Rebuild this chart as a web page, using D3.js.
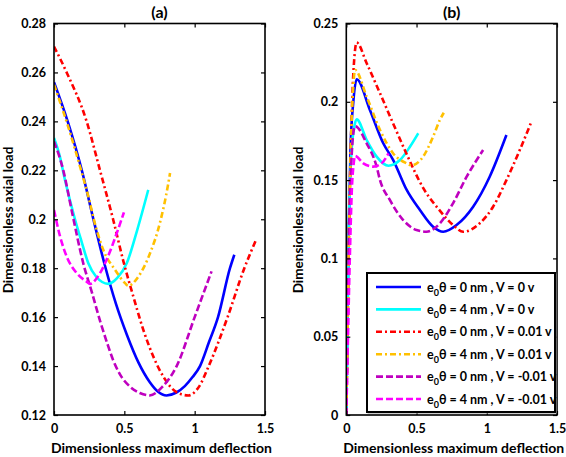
<!DOCTYPE html>
<html>
<head>
<meta charset="utf-8">
<script src="https://cdn.jsdelivr.net/npm/d3@7/dist/d3.min.js"></script>
<style>
  html, body { margin: 0; padding: 0; background: #fff; }
  svg { display: block; }
  text { font-family: Lato, "Open Sans", sans-serif; font-weight: bold; fill: #000; }
</style>
</head>
<body>
<div id="chart"></div>
<script>
// ---------- data ----------
const seriesNames = [
  "e0θ = 0 nm , V = 0 v",
  "e0θ = 4 nm , V = 0 v",
  "e0θ = 0 nm , V = 0.01 v",
  "e0θ = 4 nm , V = 0.01 v",
  "e0θ = 0 nm , V = -0.01 v",
  "e0θ = 4 nm , V = -0.01 v"
];
const legendParts = [
  ["0 nm", "0 v"], ["4 nm", "0 v"], ["0 nm", "0.01 v"],
  ["4 nm", "0.01 v"], ["0 nm", "-0.01 v"], ["4 nm", "-0.01 v"]
];

// Panel (a): [deflection, axial load]
const a_blue = [[0,0.256],[0.1,0.2395],[0.2,0.2195],[0.28,0.2],[0.36,0.1815],[0.44,0.1655],[0.52,0.1525],[0.6,0.1415],[0.68,0.1335],[0.74,0.1295],[0.8,0.128],[0.87,0.1292],[0.93,0.1318],[0.985,0.1355],[1.038,0.14],[1.1,0.1495],[1.166,0.16],[1.251,0.18],[1.282,0.1855]];
const a_cyan = [[0,0.2332],[0.04,0.226],[0.078,0.2161],[0.149,0.2],[0.197,0.1907],[0.244,0.182],[0.3,0.1765],[0.386,0.1736],[0.45,0.176],[0.517,0.182],[0.592,0.1957],[0.67,0.212]];
const a_red = [[0,0.2706],[0.09,0.26],[0.232,0.24],[0.327,0.22],[0.42,0.2],[0.497,0.182],[0.564,0.1684],[0.635,0.1548],[0.706,0.1439],[0.777,0.1357],[0.872,0.1293],[0.955,0.128],[1.03,0.1315],[1.1,0.14],[1.234,0.16],[1.353,0.18],[1.44,0.192]];
const a_orange = [[0,0.255],[0.1,0.238],[0.2,0.2185],[0.232,0.212],[0.303,0.1957],[0.35,0.1875],[0.434,0.1793],[0.505,0.1739],[0.528,0.1728],[0.6,0.1766],[0.682,0.186],[0.753,0.1985],[0.813,0.2148],[0.825,0.2189]];
const a_purple = [[0,0.2318],[0.066,0.22],[0.126,0.2035],[0.208,0.182],[0.27,0.17],[0.33,0.158],[0.38,0.149],[0.42,0.1425],[0.47,0.1365],[0.54,0.1316],[0.61,0.129],[0.68,0.128],[0.77,0.1315],[0.872,0.14],[1.0,0.16],[1.12,0.1787]];
const a_magenta = [[0,0.2038],[0.043,0.193],[0.09,0.1848],[0.161,0.178],[0.232,0.1745],[0.256,0.1736],[0.327,0.178],[0.398,0.1868],[0.446,0.1943],[0.497,0.2028]];

// Panel (b)
const b_blue = [[0,0],[0.008,0.06],[0.018,0.12],[0.03,0.17],[0.05,0.2],[0.074,0.2144],[0.168,0.1948],[0.263,0.1735],[0.334,0.1628],[0.43,0.1437],[0.524,0.1309],[0.618,0.1202],[0.69,0.117],[0.785,0.1213],[0.903,0.133],[1.02,0.152],[1.14,0.1788]];
const b_cyan = [[0,0],[0.008,0.06],[0.018,0.12],[0.035,0.165],[0.055,0.183],[0.074,0.1888],[0.145,0.1756],[0.216,0.165],[0.3,0.1592],[0.382,0.1628],[0.453,0.1713],[0.512,0.1799]];
const b_red = [[0,0],[0.01,0.06],[0.02,0.12],[0.035,0.18],[0.05,0.218],[0.074,0.2378],[0.145,0.2246],[0.24,0.2054],[0.334,0.186],[0.43,0.1665],[0.547,0.145],[0.666,0.1305],[0.76,0.1213],[0.832,0.117],[0.95,0.1224],[1.045,0.133],[1.14,0.15],[1.234,0.169],[1.318,0.1873]];
const b_orange = [[0,0],[0.01,0.06],[0.02,0.12],[0.035,0.18],[0.05,0.21],[0.062,0.2203],[0.145,0.2033],[0.24,0.182],[0.334,0.167],[0.43,0.1607],[0.465,0.1594],[0.547,0.165],[0.618,0.1777],[0.666,0.1884],[0.694,0.193]];
const b_purple = [[0,0],[0.01,0.06],[0.02,0.12],[0.035,0.16],[0.05,0.18],[0.062,0.1845],[0.145,0.1735],[0.216,0.1586],[0.24,0.15],[0.31,0.1373],[0.405,0.1245],[0.5,0.1181],[0.571,0.117],[0.666,0.1224],[0.76,0.1352],[0.856,0.152],[0.974,0.1692]];
const b_magenta = [[0,0],[0.012,0.05],[0.025,0.1],[0.04,0.145],[0.052,0.16],[0.062,0.1654],[0.121,0.1607],[0.192,0.1586],[0.251,0.1607],[0.3,0.167]];

const xTicks = [0, 0.5, 1, 1.5];
const yTicksA = [0.12, 0.14, 0.16, 0.18, 0.2, 0.22, 0.24, 0.26, 0.28];
const yTicksB = [0, 0.05, 0.1, 0.15, 0.2, 0.25];

// ---------- styles ----------
const colors = ["#0000ff", "#00ffff", "#ff0000", "#ffc000", "#bf00bf", "#ff00ff"];
const dashes = [null, null, "6,3,2,3", "6,3,2,3", "7,3", "7,3"];

const W = 566, H = 457;
const svg = d3.select("#chart").append("svg").attr("width", W).attr("height", H);

function panel(cfg) {
  const x = d3.scaleLinear().domain([0, 1.5]).range([cfg.left, cfg.right]);
  const y = d3.scaleLinear().domain(cfg.yDomain).range([cfg.bottom, cfg.top]);
  const g = svg.append("g");

  const line = d3.line().x(d => x(d[0])).y(d => y(d[1])).curve(d3.curveMonotoneX);
  g.append("defs").append("clipPath").attr("id", cfg.id + "clip")
    .append("rect").attr("x", cfg.left).attr("y", cfg.top)
    .attr("width", cfg.right - cfg.left).attr("height", cfg.bottom - cfg.top);
  const lines = g.append("g").attr("clip-path", `url(#${cfg.id}clip)`);
  cfg.series.forEach((s, i) => {
    lines.append("path").datum(s)
      .attr("d", line).attr("fill", "none")
      .attr("stroke", colors[i]).attr("stroke-width", 2.6)
      .attr("stroke-dasharray", dashes[i]);
  });

  const fmt = d => String(+d.toFixed(2));
  const bottomAx = d3.axisBottom(x).tickValues(xTicks).tickSizeInner(-4).tickSizeOuter(0).tickPadding(9).tickFormat(fmt);
  const topAx = d3.axisTop(x).tickValues(xTicks).tickSizeInner(-4).tickSizeOuter(0).tickFormat("");
  const leftAx = d3.axisLeft(y).tickValues(cfg.yTicks).tickSizeInner(-4).tickSizeOuter(0).tickPadding(8).tickFormat(fmt);
  const rightAx = d3.axisRight(y).tickValues(cfg.yTicks).tickSizeInner(-4).tickSizeOuter(0).tickFormat("");

  const axes = [
    [bottomAx, `translate(0,${cfg.bottom})`],
    [topAx, `translate(0,${cfg.top})`],
    [leftAx, `translate(${cfg.left},0)`],
    [rightAx, `translate(${cfg.right},0)`]
  ];
  axes.forEach(([ax, tr]) => {
    const a = g.append("g").attr("transform", tr).call(ax);
    a.select(".domain").remove();
    a.selectAll(".tick line").attr("stroke", "#000").attr("stroke-width", 1.2);
    a.selectAll(".tick text").style("font-family", "Lato, 'Open Sans', sans-serif")
      .style("font-weight", "bold").style("font-size", "12.5px").attr("fill", "#000");
  });

  g.append("rect").attr("x", cfg.left).attr("y", cfg.top)
    .attr("width", cfg.right - cfg.left).attr("height", cfg.bottom - cfg.top)
    .attr("fill", "none").attr("stroke", "#000").attr("stroke-width", 1.6);

  g.append("text").attr("x", (cfg.left + cfg.right) / 2).attr("y", 18)
    .attr("text-anchor", "middle").style("font-size", "16px").text(cfg.title);
  g.append("text").attr("x", (cfg.left + cfg.right) / 2 + 2).attr("y", 453)
    .attr("text-anchor", "middle").style("font-size", "14px").text("Dimensionless maximum deflection");
  g.append("text").attr("transform", `translate(${cfg.ylabX},220) rotate(-90)`)
    .attr("text-anchor", "middle").style("font-size", "13.5px").text("Dimensionless axial load");
  return { x, y, g };
}

panel({ id: "a", left: 54, right: 265, top: 23.5, bottom: 415, yDomain: [0.12, 0.28],
  yTicks: yTicksA, title: "(a)", ylabX: 13,
  series: [a_blue, a_cyan, a_red, a_orange, a_purple, a_magenta] });

panel({ id: "b", left: 346.3, right: 557, top: 23.5, bottom: 415, yDomain: [0, 0.25],
  yTicks: yTicksB, title: "(b)", ylabX: 303,
  series: [b_blue, b_cyan, b_red, b_orange, b_purple, b_magenta] });

// ---------- legend ----------
const lg = svg.append("g");
lg.append("rect").attr("x", 368).attr("y", 274).attr("width", 188).attr("height", 139)
  .attr("fill", "none").attr("stroke", "#999").attr("stroke-width", 1);
lg.append("rect").attr("x", 367).attr("y", 273).attr("width", 188).attr("height", 139)
  .attr("fill", "#fff").attr("stroke", "#000").attr("stroke-width", 2);
const rowY = d3.scalePoint().domain(d3.range(seriesNames.length)).range([287, 399]);
seriesNames.forEach((name, i) => {
  const yy = rowY(i);
  lg.append("line").attr("x1", 376).attr("x2", 421).attr("y1", yy).attr("y2", yy)
    .attr("stroke", colors[i]).attr("stroke-width", 2.6).attr("stroke-dasharray", dashes[i]);
  const t = lg.append("text").attr("x", 427).attr("y", yy + 4.5)
    .style("font-size", "12.5px");
  t.append("tspan").text("e");
  t.append("tspan").attr("dy", 4).style("font-size", "9px").text("0");
  t.append("tspan").attr("dy", -4).text("θ = " + legendParts[i][0] + " , V = " + legendParts[i][1]);
});
</script>
</body>
</html>
